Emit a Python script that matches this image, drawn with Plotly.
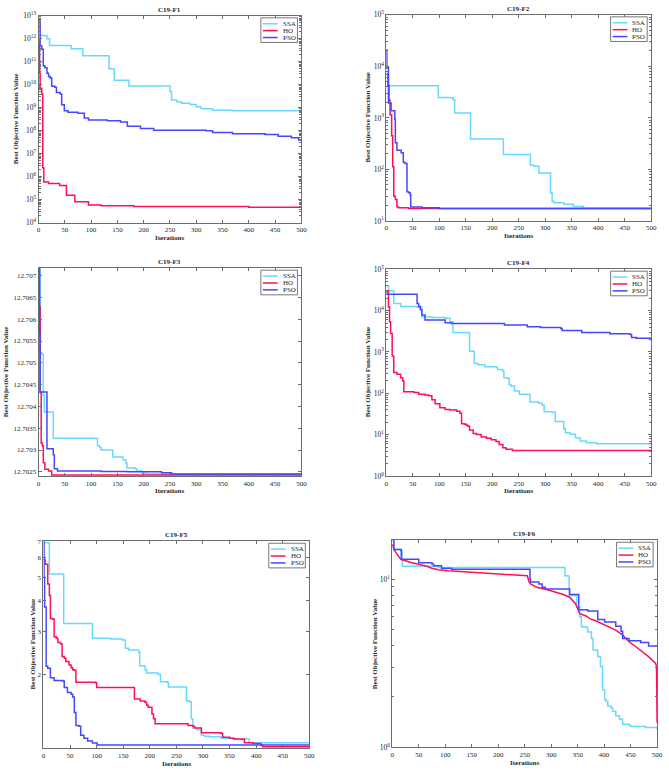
import plotly.graph_objects as go
import math

# ---------------- DATA (iteration, best value) ----------------
iters_label = "Iterations"
ylabel = "Best Objective Function Value"
titles = ["C19-F1", "C19-F2", "C19-F3", "C19-F4", "C19-F5", "C19-F6"]
algos = ["SSA", "HO", "PSO"]

# F1
f1_ssa_x = [0, 16, 21, 62, 84, 134, 144, 172, 250, 253, 263, 272, 288, 300, 309, 331, 369, 500]
f1_ssa_y = [1.41e12, 1.0e12, 5.2e11, 3.7e11, 1.86e11, 5.0e10, 1.6e10, 8.9e9, 5.2e9, 2.2e9, 1.86e9,
            1.58e9, 1.41e9, 1.12e9, 9.1e8, 7.9e8, 7.4e8, 6.9e8]
f1_ho_x = [0, 2, 3, 6, 8, 10, 19, 40, 53, 69, 95, 119, 181, 400, 500]
f1_ho_y = [7.9e11, 3.2e10, 7.1e9, 4.0e9, 2.5e6, 6.0e5, 5.2e5, 4.2e5, 1.6e5, 8.3e4, 6.0e4, 5.5e4,
           5.1e4, 4.8e4, 4.8e4]
f1_pso_x = [0, 3, 6, 9, 12, 16, 19, 22, 25, 31, 34, 41, 44, 49, 56, 75, 87, 95, 131, 156, 169,
            194, 219, 319, 331, 369, 431, 456, 481, 495, 500]
f1_pso_y = [6.8e12, 5.0e11, 3.5e11, 6.8e10, 5.6e10, 3.2e10, 2.3e10, 2.0e10, 8.7e9, 7.9e9, 4.7e9,
            4.0e9, 1.35e9, 7.4e8, 6.5e8, 5.8e8, 3.6e8, 3.0e8, 2.75e8, 2.4e8, 1.6e8, 1.26e8,
            1.07e8, 1.0e8, 8.5e7, 7.4e7, 6.9e7, 5.9e7, 5.0e7, 4.0e7, 3.6e7]

# F2
f2_ssa_x = [0, 98, 120, 126, 129, 159, 221, 272, 279, 288, 310, 313, 316, 335, 353, 372, 500]
f2_ssa_y = [4200, 2500, 2450, 2240, 1250, 390, 195, 120, 115, 85, 35, 24, 22.4, 21, 19, 17.5, 17.4]
f2_ho_x = [0, 3, 5, 7, 10, 12, 14, 17, 20, 23, 42, 500]
f2_ho_y = [7200, 4300, 2200, 1150, 450, 112, 30, 26, 18.6, 18, 17.4, 17.4]
f2_pso_x = [0, 1, 4, 9, 16, 17, 20, 28, 32, 35, 39, 42, 45, 46, 67, 100, 500]
f2_pso_y = [21000, 9500, 1950, 1380, 930, 330, 235, 210, 138, 130, 37, 35, 32, 18.6, 18, 17.4, 17.4]

# F3
f3_ssa_x = [0, 3, 6, 9, 11, 28, 112, 116, 119, 141, 161, 166, 168, 184, 187, 197, 206, 500]
f3_ssa_y = [12.7072, 12.70523, 12.7052, 12.70425, 12.70387, 12.70327, 12.7031, 12.70306, 12.703,
            12.70284, 12.70278, 12.7027, 12.70259, 12.70257, 12.70252, 12.70247, 12.70245, 12.70242]
f3_ho_x = [0, 1, 3, 5, 7, 9, 12, 19, 25, 500]
f3_ho_y = [12.7073, 12.70628, 12.70432, 12.70316, 12.7031, 12.70271, 12.70256, 12.70252,
           12.70243, 12.70241]
f3_pso_x = [0, 2, 3, 16, 28, 30, 36, 119, 169, 234, 253, 500]
f3_pso_y = [12.7078, 12.70568, 12.70433, 12.70303, 12.70289, 12.70257, 12.70252, 12.70251,
            12.7025, 12.70248, 12.70245, 12.70243]

# F4
f4_ssa_x = [0, 4, 14, 27, 58, 64, 67, 86, 111, 120, 126, 157, 166, 173, 186, 208, 210, 220, 222,
            229, 232, 235, 242, 251, 271, 288, 294, 298, 313, 319, 335, 338, 347, 357, 366, 378,
            397, 500]
f4_ssa_y = [40000, 30000, 14800, 12600, 12000, 12300, 7100, 6800, 6500, 5400, 2950, 1050, 525, 490,
            440, 420, 380, 345, 240, 230, 165, 150, 115, 95, 62, 58, 52, 36, 35, 21, 14, 11.2,
            10.3, 8.5, 7.1, 6.4, 6.1, 6.1]
f4_ho_x = [0, 4, 6, 8, 11, 14, 20, 27, 31, 33, 52, 61, 73, 80, 86, 92, 101, 111, 120, 133, 139,
           142, 148, 151, 154, 157, 164, 170, 179, 189, 198, 207, 213, 220, 226, 238, 500]
f4_ho_y = [30000, 12300, 5400, 2800, 800, 320, 290, 240, 200, 110, 105, 96, 91, 88, 70, 56, 45,
           41, 40, 37, 33, 18.6, 18, 17, 16.2, 13, 10.7, 10.2, 8.9, 8.3, 7.6, 6.9, 5.8, 4.9,
           4.5, 4.15, 4.07]
f4_pso_x = [0, 1, 55, 58, 61, 64, 67, 73, 111, 123, 223, 266, 291, 329, 332, 369, 422, 460, 463,
            472, 500]
f4_pso_y = [30000, 25000, 25000, 14800, 12600, 10500, 7800, 5900, 5100, 4900, 4500, 4100, 3900,
            3700, 3300, 2950, 2750, 2650, 2250, 2150, 1900]

# F5
f5_ssa_x = [0, 2, 11, 38, 92, 126, 148, 154, 160, 179, 181, 191, 194, 216, 220, 232, 235, 269,
            275, 278, 281, 288, 297, 303, 312, 334, 356, 387, 500]
f5_ssa_y = [7.0, 6.9, 5.14, 3.23, 2.81, 2.79, 2.77, 2.56, 2.52, 2.47, 2.17, 2.09, 2.03, 2.0, 1.87,
            1.86, 1.78, 1.56, 1.55, 1.32, 1.21, 1.19, 1.13, 1.12, 1.115, 1.10, 1.09, 1.054, 1.054]
f5_ho_x = [0, 3, 8, 11, 13, 17, 20, 24, 27, 32, 35, 39, 42, 48, 52, 55, 58, 61, 98, 100, 171, 182,
           191, 194, 197, 204, 207, 210, 272, 281, 284, 297, 334, 337, 350, 359, 378, 394, 409,
           412, 500]
f5_ho_y = [5.9, 5.64, 4.68, 4.2, 3.39, 3.37, 2.85, 2.81, 2.70, 2.67, 2.37, 2.33, 2.26, 2.19, 2.13,
           2.09, 2.08, 1.86, 1.85, 1.77, 1.59, 1.56, 1.54, 1.50, 1.47, 1.38, 1.32, 1.26, 1.24,
           1.23, 1.21, 1.157, 1.148, 1.11, 1.10, 1.09, 1.054, 1.045, 1.03, 1.015, 1.005]
f5_pso_x = [0, 1, 2, 5, 8, 13, 20, 36, 39, 45, 52, 55, 58, 61, 67, 70, 76, 83, 92, 101, 500]
f5_pso_y = [7.0, 5.0, 3.77, 2.16, 2.12, 1.94, 1.89, 1.88, 1.77, 1.69, 1.66, 1.62, 1.40, 1.24,
            1.23, 1.13, 1.10, 1.07, 1.05, 1.03, 1.026]

# F6
f6_ssa_x = [0, 3, 16, 19, 87, 326, 332, 334, 348, 354, 357, 366, 369, 376, 379, 385, 388, 393, 397,
            401, 404, 407, 413, 416, 422, 429, 435, 447, 450, 478, 500]
f6_ssa_y = [17.0, 15.0, 14.7, 11.9, 11.7, 10.46, 10.4, 7.98, 6.81, 5.95, 5.2, 5.16, 4.85, 4.43,
            3.79, 3.76, 3.46, 3.02, 2.2, 1.92, 1.88, 1.76, 1.72, 1.64, 1.54, 1.47, 1.37, 1.35,
            1.33, 1.31, 1.27]
f6_ho_x = [0, 3, 6, 12, 16, 37, 50, 62, 75, 87, 106, 168, 199, 255, 258, 261, 273, 286, 298, 323,
           335, 346, 354, 366, 373, 385, 404, 422, 435, 447, 460, 472, 484, 497, 499, 500]
f6_ho_y = [16.1, 15.0, 14.5, 13.7, 13.1, 12.5, 12.3, 12.0, 11.6, 11.35, 11.2, 10.9, 10.7, 10.46,
           9.69, 9.35, 8.93, 8.73, 8.54, 8.09, 7.8, 7.13, 6.22, 6.03, 5.82, 5.63, 5.31, 4.97,
           4.64, 4.24, 3.96, 3.70, 3.46, 3.16, 3.02, 1.40]
f6_pso_x = [0, 3, 17, 50, 75, 78, 93, 112, 260, 261, 277, 283, 289, 335, 352, 369, 388, 401, 422,
            432, 435, 447, 469, 484, 500]
f6_pso_y = [17.0, 15.0, 13.1, 12.5, 12.3, 12.0, 11.6, 11.45, 10.0, 9.6, 9.35, 8.93, 8.73, 8.09,
            6.58, 6.45, 5.74, 5.55, 5.25, 4.9, 4.43, 4.3, 4.2, 4.0, 4.0]

x_ticks = [0, 50, 100, 150, 200, 250, 300, 350, 400, 450, 500]
f1_decades = [4, 5, 6, 7, 8, 9, 10, 11, 12, 13]
f2_decades = [1, 2, 3, 4, 5]
f3_ticks = [12.7025, 12.703, 12.7035, 12.704, 12.7045, 12.705, 12.7055, 12.706, 12.7065, 12.707]
f3_ticktext = ["12.7025", "12.703", "12.7035", "12.704", "12.7045", "12.705", "12.7055",
               "12.706", "12.7065", "12.707"]
f4_decades = [0, 1, 2, 3, 4, 5]
f5_ticks = [2, 3, 4, 5, 6, 7]
f5_ticktext = ["2", "3", "4", "5", "6", "7"]
f6_decades = [0, 1]

series = [
    [(f1_ssa_x, f1_ssa_y), (f1_ho_x, f1_ho_y), (f1_pso_x, f1_pso_y)],
    [(f2_ssa_x, f2_ssa_y), (f2_ho_x, f2_ho_y), (f2_pso_x, f2_pso_y)],
    [(f3_ssa_x, f3_ssa_y), (f3_ho_x, f3_ho_y), (f3_pso_x, f3_pso_y)],
    [(f4_ssa_x, f4_ssa_y), (f4_ho_x, f4_ho_y), (f4_pso_x, f4_pso_y)],
    [(f5_ssa_x, f5_ssa_y), (f5_ho_x, f5_ho_y), (f5_pso_x, f5_pso_y)],
    [(f6_ssa_x, f6_ssa_y), (f6_ho_x, f6_ho_y), (f6_pso_x, f6_pso_y)],
]

# ---------------- STYLE / LAYOUT ----------------
W, H = 669, 772
colors = ["#6ad9ff", "#ff1052", "#4646ff"]
FONT = "Liberation Serif, Times New Roman, serif"
AXC = "#6e6e6e"
TXT = "#262626"
FS = 7

# plot boxes in pixels: left, top, right, bottom
boxes = [(37, 10, 303, 220), (389, 9, 657, 218),
         (37, 266, 303, 477), (389, 267, 657, 477),
         (42, 543, 311, 753), (395, 542, 663, 752)]
ylab_x = [15, 370, 4, 370, 31, 377]


def px(x):
    return x / W


def py(y):
    return 1 - y / H


def pow_ticks(decs):
    return [10.0 ** d for d in decs], ["10<sup>%d</sup>" % d for d in decs]


def minor_log(decs):
    vals = [k * 10.0 ** d for d in decs for k in range(2, 10)]
    return dict(ticks="inside", ticklen=2, tickcolor=AXC, tickvals=vals, showgrid=False)


fig = go.Figure()
annotations = []
shapes = []
layout = dict(width=W, height=H, margin=dict(l=0, r=0, t=0, b=0),
              paper_bgcolor="white", plot_bgcolor="white", showlegend=False,
              font=dict(family=FONT, size=FS, color=TXT))

for i in range(6):
    n = i + 1
    xa = "x" if n == 1 else f"x{n}"
    ya = "y" if n == 1 else f"y{n}"
    l, t, r, b = boxes[i]
    for j in range(3):
        xs, ys = series[i][j]
        shape = "linear" if (i == 5 and j == 1) else "hv"
        fig.add_trace(go.Scatter(x=xs, y=ys, mode="lines", name=algos[j],
                                 line=dict(color=colors[j], width=1.5, shape=shape),
                                 xaxis=xa, yaxis=ya, showlegend=False))
    xkey = "xaxis" if n == 1 else f"xaxis{n}"
    ykey = "yaxis" if n == 1 else f"yaxis{n}"
    layout[xkey] = dict(domain=[px(l), px(r)], anchor=ya, range=[0, 500],
                        tickvals=x_ticks, ticks="inside", ticklen=3, tickcolor=AXC,
                        showline=True, linecolor=AXC, linewidth=1, mirror="ticks",
                        showgrid=False, zeroline=False,
                        tickfont=dict(size=FS, color=TXT, family=FONT))
    yax = dict(domain=[py(b), py(t)], anchor=xa, ticks="inside", ticklen=3,
               tickcolor=AXC, showline=True, linecolor=AXC, linewidth=1, mirror="ticks",
               showgrid=False, zeroline=False, tickfont=dict(size=7.5, color=TXT, family=FONT))
    if i == 0:
        tv, tt = pow_ticks(f1_decades)
        yax.update(type="log", range=[4, 13], tickvals=tv, ticktext=tt,
                   minor=minor_log(f1_decades[:-1]))
    elif i == 1:
        tv, tt = pow_ticks(f2_decades)
        yax.update(type="log", range=[1, 5], tickvals=tv, ticktext=tt,
                   minor=minor_log(f2_decades[:-1]))
    elif i == 2:
        yax.update(type="linear", range=[12.70240, 12.70717], tickvals=f3_ticks,
                   ticktext=f3_ticktext, tickfont=dict(size=FS, color=TXT, family=FONT))
    elif i == 3:
        tv, tt = pow_ticks(f4_decades)
        yax.update(type="log", range=[0, 5], tickvals=tv, ticktext=tt,
                   minor=minor_log(f4_decades[:-1]))
    elif i == 4:
        yax.update(type="log", range=[0, math.log10(7)], tickvals=f5_ticks,
                   ticktext=f5_ticktext, tickfont=dict(size=FS, color=TXT, family=FONT))
    else:
        tv, tt = pow_ticks(f6_decades)
        yax.update(type="log", range=[0, math.log10(17)], tickvals=tv, ticktext=tt,
                   minor=minor_log(f6_decades[:-1]))
    layout[ykey] = yax

    # legend box (drawn in paper space)
    bl, bt, br, bb = r - 41, t + 2, r - 4, t + 27
    shapes.append(dict(type="rect", xref="paper", yref="paper", x0=px(bl), x1=px(br),
                       y0=py(bb), y1=py(bt), line=dict(color="#555555", width=0.8),
                       fillcolor="white", layer="above"))
    for j in range(3):
        yy = bt + 6 + 7 * j
        shapes.append(dict(type="line", xref="paper", yref="paper", x0=px(bl + 2),
                           x1=px(bl + 17), y0=py(yy), y1=py(yy),
                           line=dict(color=colors[j], width=1.5), layer="above"))
        annotations.append(dict(text=algos[j], x=px(bl + 20), y=py(yy), xref="paper",
                                yref="paper", xanchor="left", yanchor="middle",
                                showarrow=False,
                                font=dict(size=FS, family=FONT, color=TXT)))
    # title
    annotations.append(dict(text=f"<b>{titles[i]}</b>", x=px((l + r) / 2),
                            y=py(t - 6), xref="paper", yref="paper",
                            xanchor="center", yanchor="middle", showarrow=False,
                            font=dict(size=FS, family=FONT, color=TXT)))
    # x label
    annotations.append(dict(text=f"<b>{iters_label}</b>", x=px((l + r) / 2),
                            y=py(b + 15.5), xref="paper", yref="paper",
                            xanchor="center", yanchor="middle", showarrow=False,
                            font=dict(size=FS, family=FONT, color=TXT)))
    # y label
    annotations.append(dict(text=f"<b>{ylabel}</b>", x=px(ylab_x[i]),
                            y=py((t + b) / 2), xref="paper", yref="paper",
                            xanchor="center", yanchor="middle", showarrow=False,
                            textangle=-90,
                            font=dict(size=FS, family=FONT, color=TXT)))

layout["annotations"] = annotations
layout["shapes"] = shapes
fig.update_layout(**layout)
fig.write_html("out.html", config={"displayModeBar": False},
               post_script="document.body.style.margin='0';")
